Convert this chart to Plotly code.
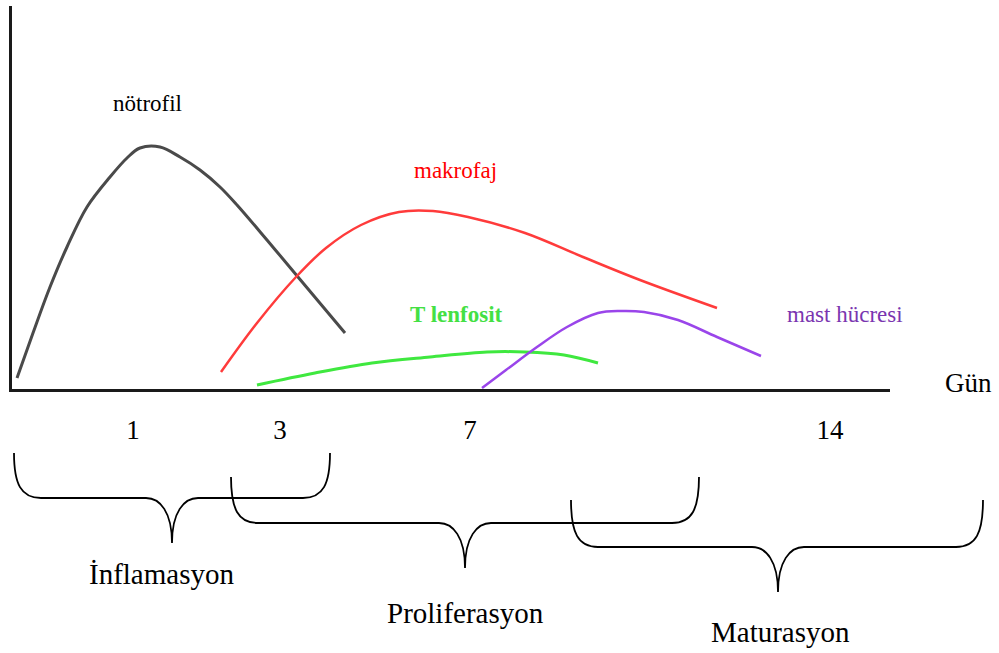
import plotly.graph_objects as go

# ---- data (arbitrary time units on x, relative cell amount on y) ----
notrofil_x = [0.5, 2.1, 3.8, 5.5, 7.5, 9.8, 11.5, 12.8, 14.8, 16.8, 18.8, 20.8, 22.5, 25.5, 28.6, 33.3]
notrofil_y = [1.1, 5.6, 10.2, 14.2, 18.2, 21.2, 23.1, 24.1, 24.2, 23.2, 21.9, 20.2, 18.4, 14.9, 11.2, 5.6]

makrofaj_x = [20.9, 24.5, 28.4, 31.4, 34.9, 38.7, 42.1, 45.6, 51.3, 57.1, 62.8, 70.5]
makrofaj_y = [1.7, 6.6, 11.2, 14.1, 16.4, 17.7, 17.8, 17.2, 15.6, 13.2, 10.9, 8.1]

tlenfosit_x = [24.5, 30.3, 36.0, 41.8, 47.5, 51.3, 55.2, 58.6]
tlenfosit_y = [0.4, 1.6, 2.6, 3.2, 3.7, 3.7, 3.4, 2.6]

mast_x = [47.0, 49.4, 52.5, 55.5, 58.6, 60.9, 63.2, 66.6, 70.5, 74.9]
mast_y = [0.1, 1.9, 4.2, 6.2, 7.6, 7.8, 7.7, 6.9, 5.2, 3.3]

tick_vals = [12.1, 26.8, 45.8, 81.8]
tick_text = ["1", "3", "7", "14"]

phase_names = ["İnflamasyon", "Proliferasyon", "Maturasyon"]
phase_start = [0.2, 21.9, 55.9]
phase_end = [31.8, 68.7, 97.1]
phase_mid = [16.0, 45.3, 76.6]

X_MAX = 87.8
Y_MAX = 38.3
FONT = "Liberation Serif, Times New Roman, serif"

fig = go.Figure()

def add_curve(x, y, color, width):
    fig.add_trace(go.Scatter(x=x, y=y, mode="lines",
                             line=dict(color=color, width=width, shape="spline", smoothing=1.0),
                             hoverinfo="skip", showlegend=False))

add_curve(notrofil_x, notrofil_y, "#4a4a4a", 3)
add_curve(makrofaj_x, makrofaj_y, "#ff3b3b", 2.5)
add_curve(tlenfosit_x, tlenfosit_y, "#3fe83f", 3)
add_curve(mast_x, mast_y, "#9a45ea", 2.5)

def px(xd):
    return xd / X_MAX

def py(yd):
    return yd / Y_MAX

def label(txt, x, y, col, size):
    fig.add_annotation(x=px(x), y=py(y), xref="paper", yref="paper", showarrow=False,
                       xanchor="center", yanchor="middle", text=txt,
                       font=dict(family=FONT, size=size, color=col))

# curve labels
label("nötrofil", 13.5, 28.5, "#000000", 23)
label("makrofaj", 44.3, 21.8, "#ff0000", 23)
label("<b>T lenfosit</b>", 44.4, 7.4, "#44e044", 23)
label("mast hücresi", 83.3, 7.5, "#7a35b0", 23)
label("Gün", 95.6, 0.6, "#000000", 27)

# braces
brace_top = [-6.4, -8.8, -11.1]
brace_h = [-10.9, -13.4, -15.8]
brace_tip = [-15.4, -17.9, -20.3]
label_y = [-18.5, -22.4, -24.3]
label_x = [14.9, 45.3, 76.8]

for i in range(3):
    L, R, m = phase_start[i], phase_end[i], phase_mid[i]
    T, H, B = brace_top[i], brace_h[i], brace_tip[i]
    pts = [
        ("M", [(L, T)]),
        ("C", [(L, H + 1.4), (L + 0.7, H), (L + 2.7, H)]),
        ("L", [(m - 2.6, H)]),
        ("C", [(m - 1.2, H), (m, H - 1.4), (m, B)]),
        ("C", [(m, H - 1.4), (m + 1.2, H), (m + 2.6, H)]),
        ("L", [(R - 2.7, H)]),
        ("C", [(R - 0.7, H), (R, H + 1.4), (R, T)]),
    ]
    path = " ".join(cmd + " " + " ".join(f"{px(a):.5f},{py(b):.5f}" for a, b in p) for cmd, p in pts)
    fig.add_shape(type="path", path=path, xref="paper", yref="paper",
                  line=dict(color="#000", width=1.8))
    label(phase_names[i], label_x[i], label_y[i], "#000000", 29)

fig.update_layout(
    width=999, height=653,
    margin=dict(l=12, r=109, t=6, b=264),
    paper_bgcolor="white", plot_bgcolor="white",
    xaxis=dict(range=[0, X_MAX], showgrid=False, zeroline=False, showline=True,
               linecolor="#1a1a1a", linewidth=2.5, tickvals=tick_vals, ticktext=tick_text,
               ticks="outside", ticklen=15, tickcolor="rgba(0,0,0,0)",
               tickfont=dict(family=FONT, size=27, color="#000"), fixedrange=True),
    yaxis=dict(range=[0, Y_MAX], showgrid=False, zeroline=False, showline=True,
               linecolor="#1a1a1a", linewidth=3, showticklabels=False, ticks="", fixedrange=True),
)

fig.write_html("out.html", config={"displayModeBar": False},
               post_script="document.body.style.margin='0';document.body.style.overflow='hidden';")
